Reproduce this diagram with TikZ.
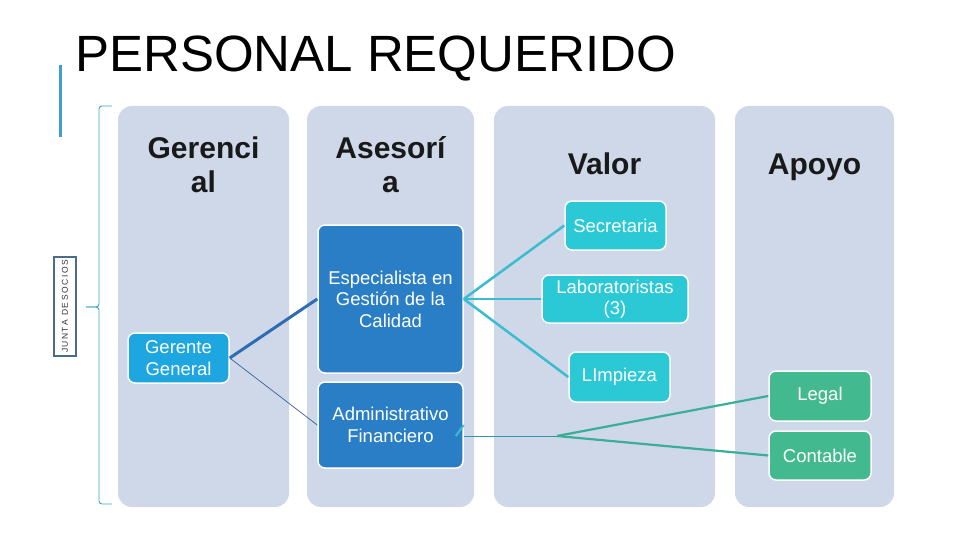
\documentclass[tikz,border=0pt]{standalone}
\usepackage{fontspec}
\setmainfont{Liberation Sans}
\definecolor{colbg}{RGB}{206,216,232}
\definecolor{barblue}{RGB}{61,160,207}
\definecolor{gerblue}{RGB}{29,166,224}
\definecolor{darkblue}{RGB}{42,126,198}
\definecolor{cyanbox}{RGB}{43,201,214}
\definecolor{greenbox}{RGB}{67,185,143}
\definecolor{linkblue}{RGB}{46,109,180}
\definecolor{thinblue}{RGB}{58,95,153}
\definecolor{linkcyan}{RGB}{59,188,207}
\definecolor{linkgreen}{RGB}{58,174,153}
\definecolor{bracecol}{RGB}{59,166,199}
\definecolor{juntacol}{RGB}{74,107,138}
\tikzset{
  column/.style={fill=colbg, draw=none, rounded corners=14pt},
  header/.style={font=\fontsize{30}{34}\selectfont\bfseries, text=black!90, align=center, inner sep=0pt},
  boxbase/.style={draw=white, line width=1.5pt, rounded corners=7pt, text=white, align=center,
    font=\fontsize{18.5}{21.5}\selectfont, inner sep=2pt},
  gerbox/.style={boxbase, fill=gerblue},
  darkbox/.style={boxbase, fill=darkblue},
  cyanb/.style={boxbase, fill=cyanbox},
  greenb/.style={boxbase, fill=greenbox},
}
\begin{document}
\begin{tikzpicture}[x=1pt,y=-1pt]
\useasboundingbox[fill=white] (0,0) rectangle (960,540);
% title
\node[anchor=base west, inner sep=0pt, font=\fontsize{51}{51}\selectfont] (title) at (75,72) {PERSONAL REQUERIDO};
\fill[barblue] (58.5,65) rectangle (61.5,137);
% columns
\fill[column] (118,106) rectangle (289,507);
\fill[column] (307,106) rectangle (474,507);
\fill[column] (494,106) rectangle (715,507);
\fill[column] (735,106) rectangle (894,507);
% headers
\node[header, anchor=base] (h1) at (203.5,193) {Gerenci\\al};
\node[header, anchor=base] (h2) at (390.5,193) {Asesorí\\a};
\node[header, anchor=base] (h3) at (604.5,175) {Valor};
\node[header, anchor=base] (h4) at (814.5,175) {Apoyo};
% brace
\draw[bracecol, line width=0.9pt, rounded corners=3pt]
  (112,106) -- (99,106) -- (99,307) -- (86,307);
\draw[bracecol, line width=0.9pt, rounded corners=3pt]
  (86,307) -- (99,307) -- (99,504) -- (112,504);
% junta
\node[draw=juntacol, line width=2pt, fill=white, minimum width=99pt, minimum height=22pt,
  rotate=90, inner sep=0pt, font=\fontsize{8.5}{8.5}\selectfont, text=black!80] (junta) at (65,306.5)
  {J\,U\,N\,T\,A\hspace{4pt}D\,E\hspace{2.5pt}S\,O\,C\,I\,O\,S};
% nodes
\node[gerbox, minimum width=101pt, minimum height=50pt] (ger) at (178.5,358) {Gerente\\General};
\node[darkbox, minimum width=145pt, minimum height=148pt] (esp) at (390.5,299) {Especialista en\\Gestión de la\\Calidad};
\node[darkbox, minimum width=145pt, minimum height=86pt] (adm) at (390.5,425) {Administrativo\\Financiero};
\node[cyanb, minimum width=101pt, minimum height=49pt] (sec) at (615.5,225.5) {Secretaria};
\node[cyanb, minimum width=146pt, minimum height=48pt] (lab) at (615,299) {Laboratoristas\\(3)};
\node[cyanb, minimum width=101pt, minimum height=50pt] (limp) at (619.5,377) {LImpieza};
\node[greenb, minimum width=102pt, minimum height=50pt] (legal) at (820,396) {Legal};
\node[greenb, minimum width=102pt, minimum height=49pt] (cont) at (820,455.5) {Contable};
% connectors
\draw[linkblue, line width=3pt] (ger.east) -- (esp.west);
\draw[thinblue, line width=0.7pt] (ger.east) -- (adm.west);
\draw[linkcyan, line width=2.5pt] (esp.east) -- (sec.west);
\draw[linkcyan, line width=2.5pt] (esp.east) -- (lab.west);
\draw[linkcyan, line width=2.5pt] (esp.east) -- (limp.west);
\coordinate (hub) at (557,436);
\coordinate (admout) at ([yshift=-11pt]adm.east);
\draw[linkcyan, line width=2pt] ([xshift=-8pt]admout) -- (adm.east);
\draw[linkcyan!80!black, line width=1pt] (admout) -- (hub);
\draw[linkgreen, line width=2.2pt] (hub) -- (legal.west);
\draw[linkgreen, line width=2.2pt] (hub) -- (cont.west);
\end{tikzpicture}
\end{document}
